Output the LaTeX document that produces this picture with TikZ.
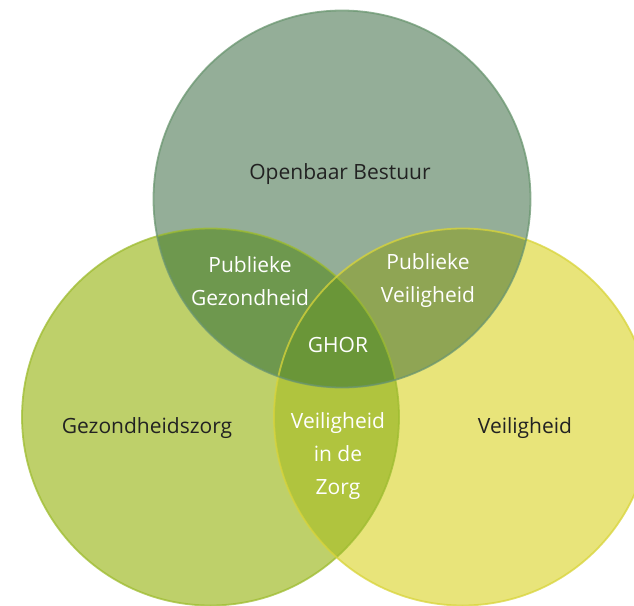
\documentclass[tikz,border=0pt]{standalone}
\usepackage{fontspec}
\setmainfont{Open Sans}
\usepackage{tikz}
\usetikzlibrary{positioning}

\definecolor{bestuur}{HTML}{94AE98}
\definecolor{bestuurrand}{HTML}{6A9670}
\definecolor{zorg}{HTML}{BED06A}
\definecolor{zorgrand}{HTML}{9EBC30}
\definecolor{veilig}{HTML}{E8E47A}
\definecolor{veiligrand}{HTML}{D8D43A}
\definecolor{bz}{HTML}{6E984E}
\definecolor{bv}{HTML}{8FA554}
\definecolor{zv}{HTML}{B0C43E}
\definecolor{bzv}{HTML}{6A9638}
\definecolor{tekst}{HTML}{222222}

\begin{document}
\begin{tikzpicture}[x=1pt,y=-1pt,
  kring/.style={line width=1.8pt, draw opacity=0.75},
  buiten/.style={font=\fontsize{21}{33}\selectfont, align=center, text=tekst},
  binnen/.style={buiten, text=white}]

\clip (0,0) rectangle (634,605); % kader

% middelpunten
\coordinate (cb) at (342,199);
\coordinate (cz) at (210.5,417);
\coordinate (cv) at (462.5,417);

% cirkels
\fill[bestuur] (cb) circle (188.5pt);
\fill[zorg] (cz) circle (188.5pt);
\fill[veilig] (cv) circle (188.5pt);

% overlap zorg-veiligheid
\begin{scope}
\clip (cz) circle (188.5pt);
\fill[zv] (cv) circle (188.5pt);
\end{scope}

% overlap met bestuur
\begin{scope}
\clip (cb) circle (188.5pt);
\fill[bz] (cz) circle (188.5pt);
\fill[bv] (cv) circle (188.5pt);
\clip (cz) circle (188.5pt);
\fill[bzv] (cv) circle (188.5pt);
\end{scope}

% randen
\draw[kring, zorgrand] (cz) circle (188.5pt);
\draw[kring, veiligrand] (cv) circle (188.5pt);
\draw[kring, bestuurrand] (cb) circle (188.5pt);

% teksten
\node[buiten] (ob) at (340,174) {Openbaar Bestuur};
\node[buiten] (gz) at (147,428) {Gezondheidszorg};
\node[buiten] (vh) at (525,428) {Veiligheid};
\node[binnen] (pg) at (250,281) {Publieke\\Gezondheid};
\node[binnen] (pv) at (428,281) {Publieke\\Veiligheid};
\node[binnen] (ghor) at (338,345) {GHOR};
\node[binnen] (viz) at (338,456) {Veiligheid\\in de\\Zorg};

\end{tikzpicture}
\end{document}
